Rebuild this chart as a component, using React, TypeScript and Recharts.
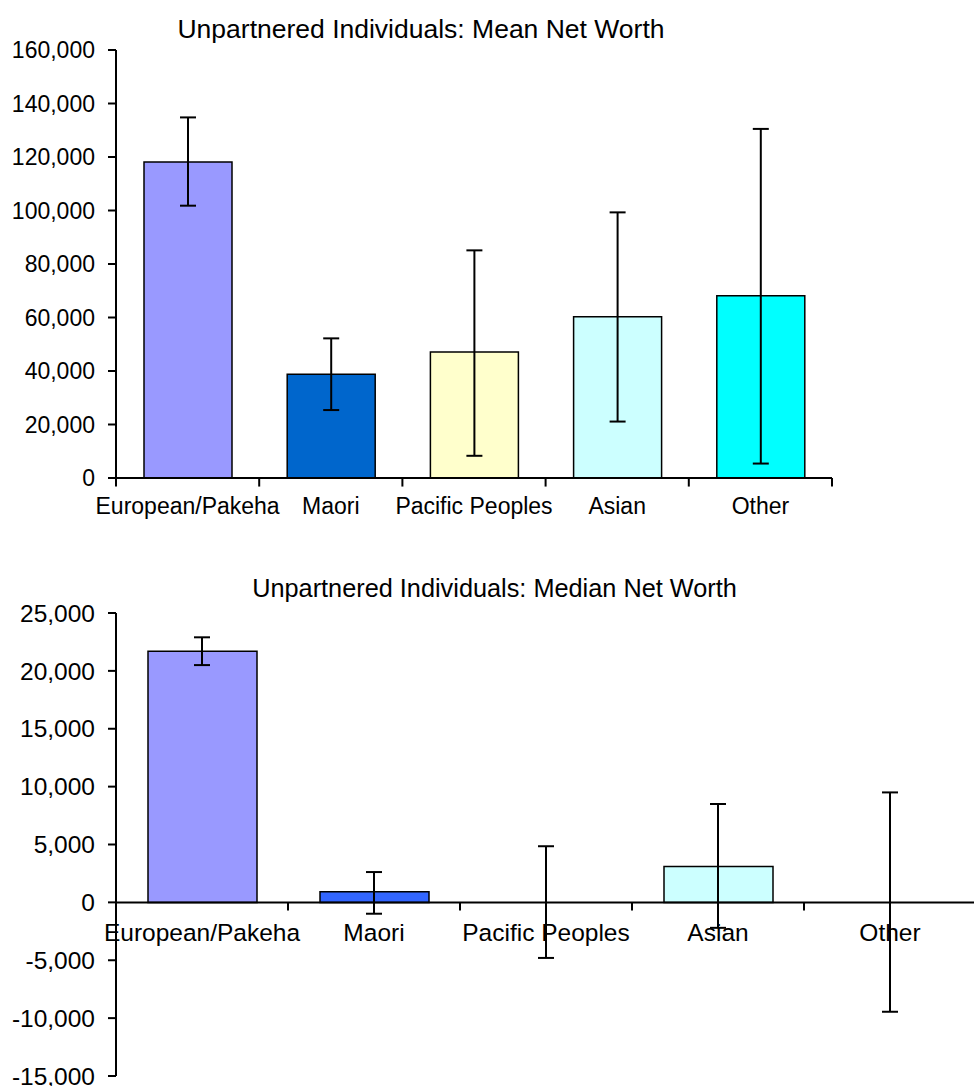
import { Bar, BarChart, Cell, ComposedChart, ErrorBar, LabelList, Line, ReferenceLine, XAxis, YAxis } from "recharts";

const CATEGORIES = ["European/Pakeha", "Maori", "Pacific Peoples", "Asian", "Other"];

// mean net worth, with [minus, plus] error
const MEAN_VALUES = [118100, 38800, 47100, 60300, 68100];
const MEAN_ERRORS = [
  [16300, 16700],
  [13400, 13400],
  [38800, 38000],
  [39200, 39000],
  [62700, 62400],
];
const MEAN_COLORS = ["#9999ff", "#0066cc", "#ffffcc", "#ccffff", "#00ffff"];
const MEAN_TICKS = [0, 20000, 40000, 60000, 80000, 100000, 120000, 140000, 160000];

// median net worth
const MEDIAN_VALUES = [21700, 920, 0, 3100, 0];
const MEDIAN_ERRORS = [
  [1200, 1200],
  [1900, 1700],
  [4800, 4850],
  [5300, 5400],
  [9450, 9500],
];
const MEDIAN_COLORS = ["#9999ff", "#3366ff", "#ffffcc", "#ccffff", "#00ffff"];
const MEDIAN_TICKS = [-15000, -10000, -5000, 0, 5000, 10000, 15000, 20000, 25000];

const meanData = CATEGORIES.map((category, i) => ({
  category,
  value: MEAN_VALUES[i],
  err: MEAN_ERRORS[i],
}));

const medianData = CATEGORIES.map((category, i) => ({
  category,
  value: MEDIAN_VALUES[i],
  err: MEDIAN_ERRORS[i],
}));

// category boundaries: start of every band, plus the end of the last one
const EDGES = [
  ...CATEGORIES.map((c) => ({ c, pos: "start" as const })),
  { c: CATEGORIES[CATEGORIES.length - 1], pos: "end" as const },
];

const fmt = (v: number) => v.toLocaleString("en-US");
const FONT = "'Liberation Sans', Arial, sans-serif";

// category name drawn just under the zero line
function CategoryLabel(props: any) {
  const vb = props.viewBox ?? props;
  const x = Number(vb.x) + (Number(vb.width) || 0) / 2;
  const y = Number(vb.y) + Math.max(Number(vb.height) || 0, 0) + 21;
  return (
    <text x={x} y={y} dy="0.71em" textAnchor="middle" fontSize={24.5} fill="#000">
      {props.value}
    </text>
  );
}

function edgeTicks(depth: number) {
  return EDGES.map((e, i) => (
    <ReferenceLine
      key={i}
      xAxisId="cat"
      position={e.pos}
      segment={[{ x: e.c, y: 0 }, { x: e.c, y: -depth }]}
      ifOverflow="visible"
      stroke="#000"
      strokeWidth={2}
    />
  ));
}

function MeanChart() {
  return (
    <BarChart
      width={974}
      height={540}
      data={meanData}
      margin={{ top: 50, right: 142, bottom: 22, left: 0 }}
    >
      <XAxis
        xAxisId="cat"
        dataKey="category"
        height={40}
        interval={0}
        tickLine={false}
        tickSize={0}
        tickMargin={20}
        axisLine={{ stroke: "#000", strokeWidth: 2 }}
        tick={{ fill: "#000", fontSize: 23 }}
      />
      <YAxis
        width={116}
        domain={[0, 160000]}
        ticks={MEAN_TICKS}
        interval={0}
        tickFormatter={fmt}
        tickSize={8}
        tickMargin={13}
        axisLine={{ stroke: "#000", strokeWidth: 2 }}
        tickLine={{ stroke: "#000", strokeWidth: 2 }}
        tick={{ fill: "#000", fontSize: 23 }}
      />
      {edgeTicks(3200)}
      <Bar xAxisId="cat" dataKey="value" barSize={88} stroke="#000" strokeWidth={1.5} isAnimationActive={false}>
        {meanData.map((d, i) => (
          <Cell key={d.category} fill={MEAN_COLORS[i]} />
        ))}
        <ErrorBar dataKey="err" width={8} stroke="#000" strokeWidth={2} />
      </Bar>
    </BarChart>
  );
}

function MedianChart() {
  return (
    <ComposedChart
      width={976}
      height={526}
      data={medianData}
      margin={{ top: 53, right: 0, bottom: 10, left: 0 }}
    >
      <XAxis
        xAxisId="cat"
        dataKey="category"
        height={0}
        axisLine={false}
        tickLine={false}
        tick={false}
      />
      <YAxis
        width={116}
        domain={[-15000, 25000]}
        ticks={MEDIAN_TICKS}
        interval={0}
        tickFormatter={fmt}
        tickSize={8}
        tickMargin={13}
        axisLine={{ stroke: "#000", strokeWidth: 2 }}
        tickLine={{ stroke: "#000", strokeWidth: 2 }}
        tick={{ fill: "#000", fontSize: 24.5 }}
      />
      <ReferenceLine xAxisId="cat" y={0} stroke="#000" strokeWidth={2} />
      {edgeTicks(700)}
      <Bar xAxisId="cat" dataKey="value" barSize={109} stroke="#000" strokeWidth={1.5} isAnimationActive={false}>
        {medianData.map((d, i) => (
          <Cell key={d.category} fill={MEDIAN_COLORS[i]} />
        ))}
      </Bar>
      {/* invisible series so zero-valued categories still get error bars */}
      <Line
        xAxisId="cat"
        dataKey="value"
        stroke="none"
        dot={false}
        activeDot={false}
        isAnimationActive={false}
      >
        <ErrorBar dataKey="err" width={8} stroke="#000" strokeWidth={2} />
      </Line>
      {/* category names sit on the zero line */}
      <Line
        xAxisId="cat"
        dataKey={() => 0}
        stroke="none"
        dot={false}
        activeDot={false}
        isAnimationActive={false}
      >
        <LabelList dataKey="category" content={CategoryLabel} />
      </Line>
    </ComposedChart>
  );
}

export default function App() {
  return (
    <div
      style={{
        position: "absolute",
        left: 0,
        top: 0,
        width: 974,
        height: 1086,
        overflow: "hidden",
        background: "#fff",
        fontFamily: FONT,
        color: "#000",
      }}
    >
      <div
        style={{
          position: "absolute",
          left: 0,
          top: 15.6,
          width: 842,
          textAlign: "center",
          fontSize: 26.5,
          lineHeight: 1,
          whiteSpace: "nowrap",
        }}
      >
        Unpartnered Individuals: Mean Net Worth
      </div>
      <div style={{ position: "absolute", left: 0, top: 0 }}>
        <MeanChart />
      </div>

      <div
        style={{
          position: "absolute",
          left: 0,
          top: 575.6,
          width: 989,
          textAlign: "center",
          fontSize: 25.3,
          lineHeight: 1,
          whiteSpace: "nowrap",
        }}
      >
        Unpartnered Individuals: Median Net Worth
      </div>
      <div style={{ position: "absolute", left: 0, top: 560, width: 974, height: 526, overflow: "hidden" }}>
        <MedianChart />
      </div>
    </div>
  );
}
